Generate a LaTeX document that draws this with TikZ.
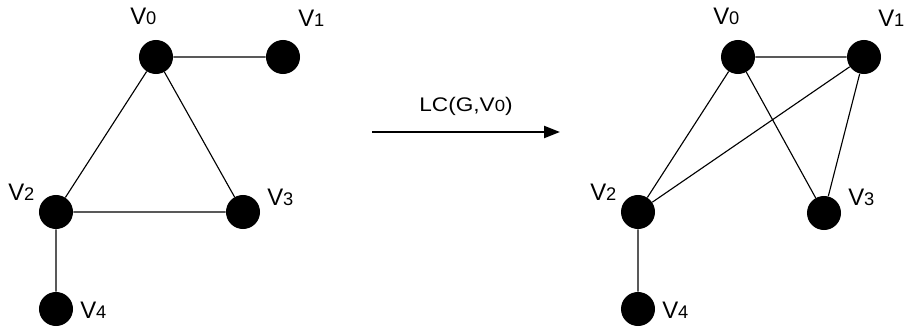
\documentclass[tikz,border=0pt]{standalone}
\usepackage{fontspec}
\setmainfont{Liberation Sans}
\newfontfamily\labfont[FakeStretch=1.15]{Liberation Sans}
\usetikzlibrary{arrows.meta}

\begin{document}
\begin{tikzpicture}[x=0.025cm,y=-0.025cm,
    vtx/.style={circle,fill=black,inner sep=0pt,minimum size=0.85cm},
    vlab/.style={anchor=base west,inner sep=0pt},
    edge/.style={line width=0.8pt}]
\useasboundingbox (0,0) rectangle (904,329);
\newcommand{\Vn}[1]{{\fontsize{17}{19}\selectfont V}{\fontsize{13}{15}\selectfont #1}}

%graphe G
\node[vtx] (a0) at (156,57) {};
\node[vtx] (a1) at (283,57) {};
\node[vtx] (a2) at (56,212) {};
\node[vtx] (a3) at (243,212) {};
\node[vtx] (a4) at (56,309) {};
\draw[edge] (a0) -- (a1) (a0) -- (a2) (a0) -- (a3) (a2) -- (a3) (a2) -- (a4);

\node[vlab] (la0) at (130,24) {\Vn{0}};
\node[vlab] (la1) at (298,26) {\Vn{1}};
\node[vlab] (la2) at (8,200) {\Vn{2}};
\node[vlab] (la3) at (267,205) {\Vn{3}};
\node[vlab] (la4) at (80,318) {\Vn{4}};

%complementation locale
\coordinate (lcA) at (372,132);
\coordinate (lcB) at (560,132);
\draw[line width=1.4pt,-{Triangle[length=11.3pt,width=8.5pt]}] (lcA) -- (lcB);
\node[vlab,anchor=base,font=\labfont] (lc) at (466,111) {\fontsize{14}{17}\selectfont LC(G,V{\fontsize{11.5}{13}\selectfont 0})};

%graphe LC(G,v0)
\node[vtx] (b0) at (738,57) {};
\node[vtx] (b1) at (864,57) {};
\node[vtx] (b2) at (638,212) {};
\node[vtx] (b3) at (824,213) {};
\node[vtx] (b4) at (638,309) {};
\draw[edge] (b0) -- (b1) (b0) -- (b2) (b0) -- (b3) (b1) -- (b2) (b1) -- (b3) (b2) -- (b4);

\node[vlab] (lb0) at (713,24) {\Vn{0}};
\node[vlab] (lb1) at (878,26) {\Vn{1}};
\node[vlab] (lb2) at (590,200) {\Vn{2}};
\node[vlab] (lb3) at (848,205) {\Vn{3}};
\node[vlab] (lb4) at (662,318) {\Vn{4}};
\end{tikzpicture}
\end{document}
